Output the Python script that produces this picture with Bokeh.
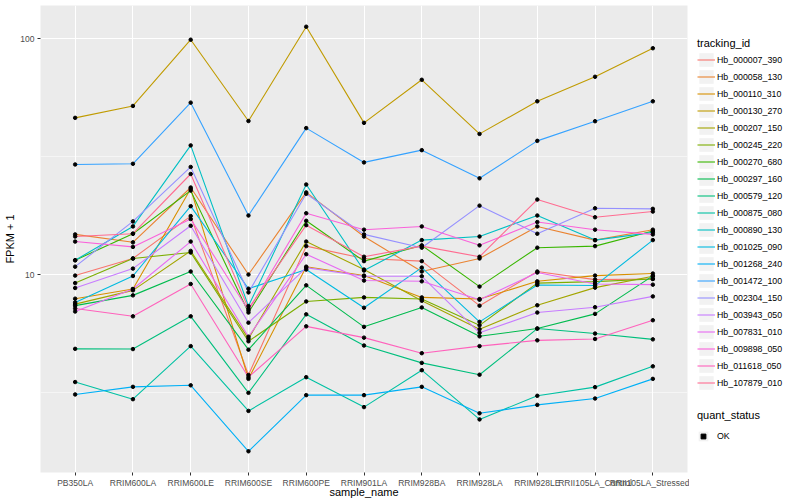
import math
from bokeh.plotting import figure
from bokeh.layouts import row
from bokeh.models import (FactorRange, Range1d, FixedTicker, PrintfTickFormatter,
                          Legend, LegendItem)
from bokeh.embed import file_html
from bokeh.resources import INLINE

samples = ["PB350LA", "RRIM600LA", "RRIM600LE", "RRIM600SE", "RRIM600PE",
           "RRIM901LA", "RRIM928BA", "RRIM928LA", "RRIM928LE",
           "RRII105LA_Control", "RRII105LA_Stressed"]

# FPKM + 1 per sample, one list per tracking_id
hb_000007_390 = [9.90, 11.7, 17.7, 3.75, 13.2, 11.7, 11.4, 7.38, 10.3, 9.52, 9.58]
hb_000058_130 = [14.8, 13.7, 23.4, 10.0, 22.3, 14.5, 10.3, 11.7, 16.0, 14.0, 15.5]
hb_000110_310 = [7.90, 8.68, 23.1, 3.61, 10.8, 9.90, 8.00, 7.87, 9.36, 9.90, 10.1]
hb_000130_270 = [46.2, 51.9, 99.1, 44.8, 112.5, 44.0, 67.0, 39.5, 54.3, 69.0, 91.2]
hb_000207_150 = [7.49, 8.57, 12.6, 5.35, 13.8, 10.5, 7.74, 5.86, 7.41, 8.80, 9.84]
hb_000245_220 = [9.20, 11.7, 12.4, 5.21, 7.69, 8.00, 7.87, 6.09, 9.20, 9.33, 9.58]
hb_000270_680 = [11.5, 14.9, 22.7, 6.90, 16.9, 11.4, 13.3, 8.89, 13.0, 13.2, 15.3]
hb_000297_160 = [7.38, 8.16, 10.3, 4.80, 9.00, 6.00, 7.25, 5.47, 5.90, 6.81, 9.87]
hb_000579_120 = [4.84, 4.83, 6.65, 3.15, 6.78, 5.00, 4.22, 3.76, 5.90, 5.62, 5.31]
hb_000875_080 = [3.50, 2.96, 4.97, 2.64, 3.67, 2.74, 3.93, 2.43, 3.06, 3.33, 4.08]
hb_000890_130 = [11.5, 16.0, 35.3, 7.35, 24.1, 10.4, 14.0, 14.5, 17.8, 14.0, 15.1]
hb_001025_090 = [7.62, 9.86, 19.5, 8.71, 10.5, 7.23, 10.7, 6.30, 9.03, 8.98, 14.0]
hb_001268_240 = [3.10, 3.34, 3.39, 1.78, 3.08, 3.08, 3.34, 2.58, 2.80, 2.98, 3.61]
hb_001472_100 = [29.3, 29.5, 53.6, 17.8, 41.8, 29.9, 33.7, 25.6, 36.9, 44.7, 54.3]
hb_002304_150 = [10.8, 16.8, 28.6, 8.40, 22.0, 14.8, 13.0, 19.6, 14.9, 19.1, 19.0]
hb_003943_050 = [8.77, 10.6, 16.1, 6.25, 10.7, 9.83, 9.83, 5.66, 6.90, 7.27, 8.08]
hb_007831_010 = [6.97, 8.68, 13.8, 5.45, 12.2, 9.43, 9.36, 7.82, 10.2, 9.12, 9.06]
hb_009898_050 = [13.8, 13.1, 17.2, 7.04, 18.2, 15.5, 16.0, 13.3, 16.7, 15.5, 14.8]
hb_011618_050 = [7.18, 6.65, 9.12, 3.67, 6.03, 5.40, 4.64, 4.97, 5.26, 5.33, 6.40]
hb_107879_010 = [14.5, 14.9, 26.7, 7.18, 16.2, 11.9, 13.2, 11.9, 20.8, 17.5, 18.5]

tracking_ids = ["Hb_000007_390", "Hb_000058_130", "Hb_000110_310", "Hb_000130_270",
                "Hb_000207_150", "Hb_000245_220", "Hb_000270_680", "Hb_000297_160",
                "Hb_000579_120", "Hb_000875_080", "Hb_000890_130", "Hb_001025_090",
                "Hb_001268_240", "Hb_001472_100", "Hb_002304_150", "Hb_003943_050",
                "Hb_007831_010", "Hb_009898_050", "Hb_011618_050", "Hb_107879_010"]
series_values = [hb_000007_390, hb_000058_130, hb_000110_310, hb_000130_270,
                 hb_000207_150, hb_000245_220, hb_000270_680, hb_000297_160,
                 hb_000579_120, hb_000875_080, hb_000890_130, hb_001025_090,
                 hb_001268_240, hb_001472_100, hb_002304_150, hb_003943_050,
                 hb_007831_010, hb_009898_050, hb_011618_050, hb_107879_010]
quant_status = "OK"

colors = ["#F8766D", "#EA8331", "#D89000", "#C09B00", "#A3A500", "#7CAE00", "#39B600",
          "#00BB4E", "#00BF7D", "#00C1A3", "#00BFC4", "#00BAE0", "#00B0F6", "#35A2FF",
          "#9590FF", "#C77CFF", "#E76BF3", "#FA62DB", "#FF62BC", "#FF6C91"]

FONT = "Liberation Sans"

all_vals = [v for s in series_values for v in s]
lmin, lmax = math.log10(min(all_vals)), math.log10(max(all_vals))
pad = 0.05 * (lmax - lmin)
y_range = Range1d(10 ** (lmin - pad), 10 ** (lmax + pad))
x_range = FactorRange(factors=samples, range_padding=0.1, range_padding_units="absolute")

p = figure(x_range=x_range, y_range=y_range, y_axis_type="log",
           width=689, height=500, output_backend="svg", toolbar_location=None,
           title=None, min_border_left=40, min_border_right=2,
           min_border_top=5, min_border_bottom=0,
           background_fill_color="#EBEBEB", border_fill_color="white",
           outline_line_color=None)

# axes
p.yaxis.ticker = FixedTicker(ticks=[10, 100], minor_ticks=[10 ** 0.5, 10 ** 1.5])
p.yaxis.formatter = PrintfTickFormatter(format="%d")
p.xaxis.axis_label = "sample_name"
p.yaxis.axis_label = "FPKM + 1"
for ax in (p.xaxis[0], p.yaxis[0]):
    ax.axis_line_color = None
    ax.major_tick_line_color = "#333333"
    ax.major_tick_out = 3
    ax.major_tick_in = 0
    ax.minor_tick_line_color = None
    ax.major_label_text_font = FONT
    ax.major_label_text_font_size = "8.5px"
    ax.major_label_text_color = "#4D4D4D"
    ax.major_label_standoff = 2
    ax.axis_label_text_font = FONT
    ax.axis_label_text_font_size = "11px"
    ax.axis_label_text_font_style = "normal"
    ax.axis_label_text_color = "black"
    ax.axis_label_standoff = 1
p.xaxis.axis_label_standoff = -5

p.xgrid.grid_line_color = "white"
p.xgrid.grid_line_width = 1.1
p.ygrid.grid_line_color = "white"
p.ygrid.grid_line_width = 1.1
p.ygrid.minor_grid_line_color = "white"
p.ygrid.minor_grid_line_width = 0.5

for name, vals, col in zip(tracking_ids, series_values, colors):
    p.line(x=samples, y=vals, line_color=col, line_width=1.1)

px = [s for vals in series_values for s in samples]
py = [v for vals in series_values for v in vals]
p.scatter(x=px, y=py, size=3.5, color="black", marker="circle")

# legend panel (separate figure sharing the ranges; proxies are hidden)
lg = figure(x_range=x_range, y_range=y_range, y_axis_type="log",
            width=111, height=500, output_backend="svg", toolbar_location=None,
            title=None, x_axis_location=None, y_axis_location=None,
            min_border=0, outline_line_color=None,
            background_fill_color="white", border_fill_color="white")
lg.grid.visible = False

items = []
for name, vals, col in zip(tracking_ids, series_values, colors):
    bg = lg.quad(left=samples[:1], right=samples[:1], bottom=vals[:1], top=vals[:1],
                 fill_color="#F2F2F2", line_color=None, visible=False)
    r = lg.line(x=samples, y=vals, line_color=col, line_width=1.1, visible=False)
    items.append(LegendItem(label=name, renderers=[bg, r]))

bg_pt = lg.quad(left=samples[:1], right=samples[:1], bottom=py[:1], top=py[:1],
                fill_color="#F2F2F2", line_color=None, visible=False)
pts = lg.scatter(x=px, y=py, size=3.5, color="black", marker="square", visible=False)


def style_legend(leg):
    leg.title_text_font = FONT
    leg.title_text_font_size = "11px"
    leg.title_text_font_style = "normal"
    leg.title_text_color = "black"
    leg.label_text_font = FONT
    leg.label_text_font_size = "8.8px"
    leg.label_text_color = "black"
    leg.glyph_width = 18
    leg.glyph_height = 17
    leg.label_height = 17
    leg.label_standoff = 2
    leg.spacing = 0
    leg.padding = 0
    leg.margin = 0
    leg.title_standoff = 2
    leg.border_line_color = None
    leg.background_fill_alpha = 0


leg1 = Legend(items=items, title="tracking_id", location=(8, 81))
style_legend(leg1)
lg.add_layout(leg1)

leg2 = Legend(items=[LegendItem(label=quant_status, renderers=[bg_pt, pts])],
              title="quant_status", location=(8, 28))
style_legend(leg2)
leg2.title_standoff = 6
leg2.glyph_width = 12
leg2.glyph_height = 12
leg2.label_standoff = 8
lg.add_layout(leg2)

layout = row(p, lg, spacing=0)
open("out.html", "w").write(file_html(layout, INLINE))
